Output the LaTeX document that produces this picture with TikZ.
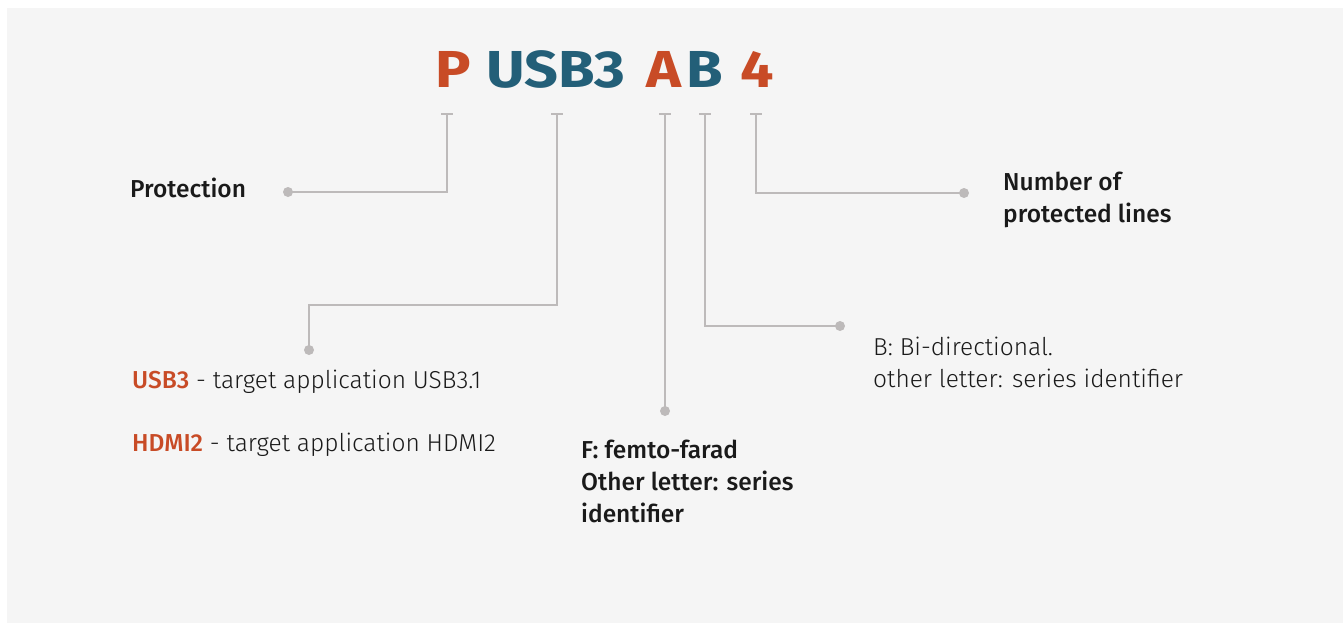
\documentclass[tikz,border=0pt]{standalone}
\usepackage{fontspec}
\setmainfont{Fira Sans Light}[BoldFont={Fira Sans Medium}]
\newfontfamily\heavyfont{Fira Sans Bold}[FakeStretch=1.14]
\definecolor{bgrey}{HTML}{F5F5F5}
\definecolor{lgrey}{HTML}{BDBABA}
\definecolor{rust}{HTML}{C84B26}
\definecolor{teal}{HTML}{235F78}
\definecolor{ink}{HTML}{1A1A1A}
\tikzset{
  lettr/.style={anchor=base west, inner sep=0pt, font=\heavyfont\fontsize{52}{52}\selectfont},
  conn/.style={draw=lgrey, line width=2.4pt},
  dotn/.style={circle, fill=lgrey, inner sep=0pt, minimum size=10pt},
  lbl/.style={anchor=base west, inner sep=0pt, text=ink, font=\fontsize{24.5}{32}\selectfont, align=left},
  blbl/.style={lbl, font=\bfseries\fontsize{24.5}{32}\selectfont},
}
\begin{document}
\begin{tikzpicture}[x=1pt,y=-1pt]
\useasboundingbox (0,0) rectangle (1343,626);
\fill[white] (0,0) rectangle (1343,626);
\fill[bgrey] (7,8) rectangle (1343,623);
% title letters
\node[lettr, text=rust] (lP) at (435,88) {P};
\node[lettr, text=teal] (lU) at (486,88) {USB3};
\node[lettr, text=rust] (lA) at (646,88) {A};
\node[lettr, text=teal, xshift=5pt] (lB) at (lA.base east) {B};
\node[lettr, text=rust] (l4) at (740,88) {4};
% tick tops
\coordinate (tP) at (447,114);
\coordinate (tU) at (557,114);
\coordinate (tA) at (665,114);
\coordinate (tB) at (705,114);
\coordinate (t4) at (756,114);
\foreach \t in {tP,tU,tA,tB,t4}{
  \draw[conn] ([xshift=-6pt]\t) -- ([xshift=6pt]\t);
}
% dots
\node[dotn] (dP) at (288,192) {};
\coordinate (kU) at (309,305);
\node[dotn] (dU) at (309,350) {};
\node[dotn] (dA) at (665,411) {};
\node[dotn] (dB) at (840,326) {};
\node[dotn] (d4) at (964,193) {};
% connectors
\draw[conn] (tP) |- (dP.center);
\draw[conn] (tU) |- (kU) -- (dU.center);
\draw[conn] (tA) -- (dA.center);
\draw[conn] (tB) |- (dB.center);
\draw[conn] (t4) |- (d4.center);
% labels (anchor = baseline of last line)
\node[blbl] (protection) at (130,197) {Protection};
\node[blbl] (number) at (1003,222) {Number of\\protected lines};
\node[lbl] (bidir) at (873,387) {B: Bi-directional.\\other letter: series identifier};
\node[lbl] (usb) at (132,388) {\textbf{\textcolor{rust}{USB3}} - target application USB3.1};
\node[lbl] (hdmi) at (132,451) {\textbf{\textcolor{rust}{HDMI2}} - target application HDMI2};
\node[blbl] (femto) at (581,522) {F: femto-farad\\Other letter: series\\identifier};
\end{tikzpicture}
\end{document}
